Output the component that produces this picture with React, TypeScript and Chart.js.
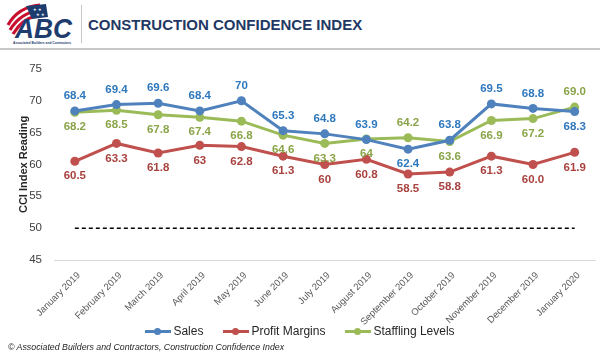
import React, { useEffect, useRef } from "react";
import { Chart, registerables } from "chart.js";

Chart.register(...registerables);

const months = [
  "January 2019", "February 2019", "March 2019", "April 2019", "May 2019", "June 2019",
  "July 2019", "August 2019", "September 2019", "October 2019", "November 2019",
  "December 2019", "January 2020",
];
const sales = [68.4, 69.4, 69.6, 68.4, 70, 65.3, 64.8, 63.9, 62.4, 63.8, 69.5, 68.8, 68.3];
const profitMargins = [60.5, 63.3, 61.8, 63, 62.8, 61.3, 60, 60.8, 58.5, 58.8, 61.3, 60.0, 61.9];
const staffing = [68.2, 68.5, 67.8, 67.4, 66.8, 64.6, 63.3, 64, 64.2, 63.6, 66.9, 67.2, 69.0];
const threshold = [50, 50, 50, 50, 50, 50, 50, 50, 50, 50, 50, 50, 50];
const yTicks = [45, 50, 55, 60, 65, 70, 75];
// labels from this index on are shown with one decimal
const oneDecimalFrom = 10;
// label placement: true = above the point
const salesAbove = [true, true, true, true, true, true, true, true, false, true, true, true, false];
const profitAbove = [false, false, false, false, false, false, false, false, false, false, false, false, false];
const staffingAbove = [false, false, false, false, false, false, false, false, true, false, false, false, true];

const FONT = "'Liberation Sans', Arial, sans-serif";

const series = [
  { name: "Sales", data: sales, line: "#4F81BD", label: "#2E78BD", above: salesAbove },
  { name: "Profit Margins", data: profitMargins, line: "#C0504D", label: "#A8423F", above: profitAbove },
  { name: "Staffling Levels", data: staffing, line: "#9BBB59", label: "#8AA449", above: staffingAbove },
];

const labelPlugin = {
  id: "pointLabels",
  afterDatasetsDraw(chart: any) {
    const ctx = chart.ctx;
    ctx.save();
    ctx.font = `bold 11.5px ${FONT}`;
    ctx.textAlign = "center";
    ctx.textBaseline = "middle";
    chart.data.datasets.forEach((ds: any, di: number) => {
      if (!ds._above) return;
      const meta = chart.getDatasetMeta(di);
      meta.data.forEach((pt: any, i: number) => {
        const v = ds.data[i];
        const txt = i >= oneDecimalFrom ? v.toFixed(1) : String(v);
        ctx.fillStyle = ds._labelColor;
        ctx.fillText(txt, pt.x, pt.y + (ds._above[i] ? -15 : 15));
      });
    });
    ctx.restore();
  },
};

function Logo() {
  return (
    <svg width="70" height="44" viewBox="0 0 70 44" style={{ position: "absolute", left: 6, top: 3 }}>
      <path d="M2 22 Q12 4 34 2" stroke="#C8102E" strokeWidth="3.2" fill="none" />
      <path d="M4 27 Q14 10 34 7" stroke="#C8102E" strokeWidth="3.2" fill="none" />
      <path d="M7 31 Q16 16 30 13" stroke="#C8102E" strokeWidth="3.2" fill="none" />
      <path d="M20 3 L40 1 L42 14 L26 16 Z" fill="#1F3C6E" />
      <text x="27" y="8" fontSize="4" fill="#fff">★ ★</text>
      <text x="30" y="13" fontSize="4" fill="#fff">★ ★</text>
      <text x="9" y="35" fontSize="27" fontWeight="bold" fontStyle="italic" fill="#1F3C6E"
        textLength="57" lengthAdjust="spacingAndGlyphs" fontFamily={FONT}>ABC</text>
      <text x="7" y="40.5" fontSize="3.4" fill="#1F3C6E" fontWeight="bold" fontFamily={FONT}
        textLength="58" lengthAdjust="spacingAndGlyphs">Associated Builders and Contractors</text>
    </svg>
  );
}

function LegendItem({ name, color, last }: { name: string; color: string; last: boolean }) {
  return (
    <div style={{ display: "flex", alignItems: "center", marginRight: last ? 0 : 20 }}>
      <div style={{ position: "relative", width: 26, height: 10, marginRight: 2 }}>
        <div style={{ position: "absolute", left: 0, top: 4, width: 26, height: 3, background: color }} />
        <div style={{ position: "absolute", left: 9, top: 2, width: 7, height: 7, borderRadius: "50%", background: color }} />
      </div>
      <span>{name}</span>
    </div>
  );
}

export default function App() {
  const canvasRef = useRef<HTMLCanvasElement | null>(null);

  useEffect(() => {
    if (!canvasRef.current) return;
    const datasets: any[] = series.map((s) => ({
      label: s.name,
      data: s.data,
      borderColor: s.line,
      backgroundColor: s.line,
      borderWidth: 3,
      pointRadius: 4.5,
      pointBorderWidth: 0,
      pointBackgroundColor: s.line,
      tension: 0,
      _above: s.above,
      _labelColor: s.label,
    }));
    datasets.push({
      label: "threshold",
      data: threshold,
      borderColor: "#000000",
      borderWidth: 1.5,
      borderDash: [4, 3],
      pointRadius: 0,
      tension: 0,
    });
    const chart = new Chart(canvasRef.current, {
      type: "line",
      data: { labels: months, datasets },
      options: {
        responsive: false,
        animation: false,
        layout: { padding: { top: 15, right: 4, left: 0, bottom: 0 } },
        plugins: { legend: { display: false }, tooltip: { enabled: false } },
        scales: {
          x: {
            offset: true,
            grid: { display: false },
            border: { display: true, color: "#D9D9D9", width: 1 },
            ticks: {
              font: { family: FONT, size: 9.5 },
              color: "#595959",
              minRotation: 45,
              maxRotation: 45,
              padding: 2,
              labelOffset: 4,
              autoSkip: false,
            },
            afterFit: (scale: any) => {
              scale.height = 65;
            },
          },
          y: {
            min: yTicks[0],
            max: yTicks[yTicks.length - 1],
            afterBuildTicks: (scale: any) => {
              scale.ticks = yTicks.map((v) => ({ value: v }));
            },
            grid: { display: false, drawTicks: false },
            border: { display: false },
            ticks: {
              font: { family: FONT, size: 11.5 },
              color: "#404040",
              padding: 12,
            },
            title: {
              display: true,
              text: "CCI Index Reading",
              font: { family: FONT, size: 11, weight: "bold" },
              color: "#262626",
              padding: { top: 17, bottom: 0 },
            },
            afterFit: (scale: any) => {
              scale.width = 54;
            },
          },
        },
      } as any,
      plugins: [labelPlugin],
    });
    return () => chart.destroy();
  }, []);

  return (
    <div style={{ position: "fixed", left: 0, top: 0, width: 600, height: 355, background: "#fff", overflow: "hidden", fontFamily: FONT }}>
      <Logo />
      <div style={{ position: "absolute", left: 81, top: 5, width: 1, height: 38, background: "#C8C8C8" }} />
      <div style={{ position: "absolute", left: 88, top: 16, fontSize: 15, fontWeight: "bold", color: "#1F3864", whiteSpace: "nowrap" }}>
        CONSTRUCTION CONFIDENCE INDEX
      </div>
      <div style={{ position: "absolute", left: 0, top: 48, width: 600, height: 2, background: "#C8C8C8" }} />
      <canvas ref={canvasRef} width={600} height={275} style={{ position: "absolute", left: 0, top: 50 }} />
      <div style={{ position: "absolute", left: 0, top: 324, width: 600, display: "flex", justifyContent: "center", fontSize: 12, color: "#262626" }}>
        {series.map((s, i) => (
          <LegendItem key={s.name} name={s.name} color={s.line} last={i === series.length - 1} />
        ))}
      </div>
      <div style={{ position: "absolute", left: 8, top: 342, fontSize: 8.8, fontStyle: "italic", color: "#262626", whiteSpace: "nowrap" }}>
        © Associated Builders and Contractors, Construction Confidence Index
      </div>
    </div>
  );
}
